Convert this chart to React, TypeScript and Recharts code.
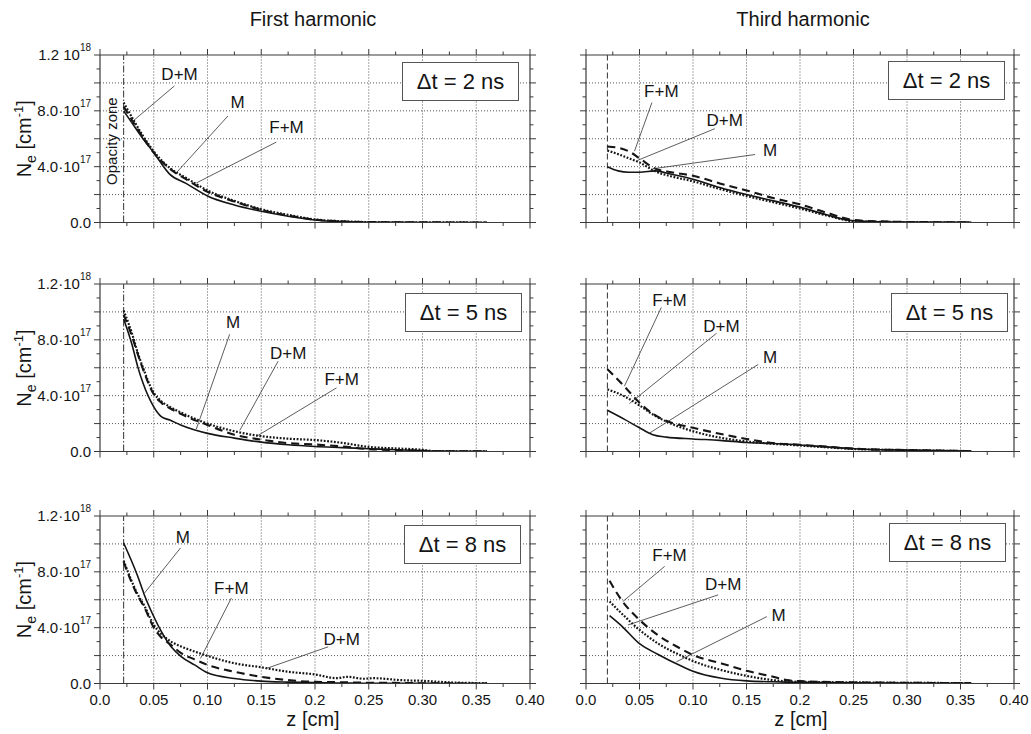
import React from 'react';
import { LineChart, Line, XAxis, YAxis, ReferenceLine, ReferenceDot } from 'recharts';

const FONT = '"Liberation Sans", Arial, Helvetica, sans-serif';
const FRAME = '#3a3a3a';
const INK = '#151515';

// ---------- axis ticks ----------
const zTicks = [0, 0.025, 0.05, 0.075, 0.1, 0.125, 0.15, 0.175, 0.2, 0.225, 0.25, 0.275, 0.3, 0.325, 0.35, 0.375, 0.4];
const zMajor = [0, 0.05, 0.1, 0.15, 0.2, 0.25, 0.3, 0.35, 0.4];
const zLabels = ['0.0', '0.05', '0.10', '0.15', '0.2', '0.25', '0.30', '0.35', '0.40'];
const nTicks = [0, 1, 2, 3, 4, 5, 6, 7, 8, 9, 10, 11, 12]; // units of 1e17 cm^-1
const nMajor = [0, 2, 4, 6, 8, 10, 12];
const nLabelValues = [0, 4, 8, 12];
const nLabelMain = ['0.0', '4.0·10', '8.0·10', '1.2·10'];
const nLabelMainTop = ['0.0', '4.0·10', '8.0·10', '1.2 10'];
const nLabelExp = ['', '17', '17', '18'];

// ---------- First harmonic, Δt = 2 ns ----------
const z_first_2 = [0.022, 0.03, 0.04, 0.05, 0.065, 0.08, 0.1, 0.125, 0.15, 0.175, 0.2, 0.225, 0.25, 0.3, 0.36];
const m_first_2 = [8.0, 7.1, 6.0, 5.0, 3.45, 2.8, 1.9, 1.25, 0.8, 0.45, 0.18, 0.06, 0.02, 0.005, 0];
const dm_first_2 = [8.6, 7.5, 6.2, 5.1, 3.9, 3.2, 2.3, 1.55, 0.95, 0.55, 0.22, 0.09, 0.03, 0.01, 0];
const fm_first_2 = [8.3, 7.3, 6.1, 5.0, 3.85, 3.1, 2.2, 1.5, 0.9, 0.5, 0.2, 0.08, 0.03, 0.01, 0];

// ---------- Third harmonic, Δt = 2 ns ----------
const z_third_2 = [0.02, 0.03, 0.04, 0.05, 0.065, 0.08, 0.1, 0.125, 0.15, 0.175, 0.2, 0.225, 0.25, 0.275, 0.3, 0.36];
const m_third_2 = [4.0, 3.7, 3.6, 3.6, 3.7, 3.45, 3.1, 2.5, 2.0, 1.55, 1.1, 0.55, 0.12, 0.05, 0.03, 0.01];
const dm_third_2 = [5.15, 4.9, 4.6, 4.3, 3.65, 3.3, 2.95, 2.4, 1.9, 1.45, 1.0, 0.5, 0.1, 0.05, 0.03, 0.01];
const fm_third_2 = [5.45, 5.35, 5.1, 4.6, 3.85, 3.6, 3.35, 2.8, 2.3, 1.75, 1.3, 0.7, 0.18, 0.08, 0.04, 0.01];

// ---------- First harmonic, Δt = 5 ns ----------
const z_first_5 = [0.022, 0.03, 0.035, 0.04, 0.05, 0.057, 0.065, 0.075, 0.1, 0.125, 0.15, 0.175, 0.2, 0.225, 0.25, 0.275, 0.3, 0.31, 0.36];
const m_first_5 = [9.5, 7.6, 6.1, 4.9, 3.2, 2.5, 2.25, 1.9, 1.3, 0.96, 0.67, 0.48, 0.36, 0.28, 0.2, 0.12, 0.06, 0.03, 0.01];
const dm_first_5 = [10.1, 8.4, 7.1, 6.0, 4.2, 3.6, 3.2, 2.8, 2.0, 1.45, 1.1, 0.92, 0.82, 0.62, 0.33, 0.22, 0.12, 0.03, 0.01];
const fm_first_5 = [9.8, 8.2, 7.0, 5.9, 4.1, 3.5, 3.1, 2.7, 1.9, 1.2, 0.85, 0.6, 0.5, 0.36, 0.17, 0.1, 0.05, 0.02, 0.01];

// ---------- Third harmonic, Δt = 5 ns ----------
const z_third_5 = [0.02, 0.036, 0.05, 0.0625, 0.075, 0.1, 0.125, 0.15, 0.175, 0.2, 0.225, 0.25, 0.3, 0.36];
const m_third_5 = [2.95, 2.3, 1.7, 1.2, 1.03, 0.9, 0.8, 0.65, 0.57, 0.47, 0.33, 0.2, 0.1, 0.03];
const dm_third_5 = [4.45, 3.95, 3.3, 2.65, 2.15, 1.45, 1.0, 0.72, 0.55, 0.43, 0.3, 0.18, 0.1, 0.03];
const fm_third_5 = [5.9, 4.65, 3.5, 2.7, 2.2, 1.7, 1.27, 0.9, 0.6, 0.48, 0.35, 0.2, 0.1, 0.03];

// ---------- First harmonic, Δt = 8 ns ----------
const z_first_8 = [0.022, 0.035, 0.041, 0.05, 0.057, 0.066, 0.0755, 0.088, 0.1, 0.125, 0.15, 0.175, 0.2, 0.22, 0.23, 0.245, 0.255, 0.28, 0.3, 0.32, 0.36];
const m_first_8 = [10.07, 7.7, 6.4, 4.8, 3.73, 2.65, 1.93, 1.33, 0.77, 0.36, 0.17, 0.1, 0.06, 0.04, 0.03, 0.02, 0.02, 0.01, 0.01, 0.005, 0];
const dm_first_8 = [8.8, 6.4, 5.6, 4.2, 3.55, 3.0, 2.65, 2.29, 1.98, 1.45, 1.16, 0.84, 0.65, 0.38, 0.48, 0.34, 0.38, 0.24, 0.19, 0.1, 0.02];
const fm_first_8 = [8.7, 6.3, 5.5, 4.0, 3.3, 2.77, 2.17, 1.73, 1.33, 0.84, 0.48, 0.24, 0.12, 0.1, 0.08, 0.06, 0.05, 0.04, 0.02, 0.01, 0];

// ---------- Third harmonic, Δt = 8 ns ----------
const z_third_8 = [0.022, 0.033, 0.05, 0.067, 0.089, 0.1, 0.1266, 0.15, 0.175, 0.1875, 0.2, 0.25, 0.3, 0.36];
const m_third_8 = [4.87, 4.15, 2.85, 2.1, 1.25, 0.88, 0.38, 0.19, 0.12, 0.1, 0.08, 0.05, 0.03, 0.02];
const dm_third_8 = [5.88, 5.04, 3.84, 2.88, 1.99, 1.61, 0.96, 0.55, 0.24, 0.16, 0.12, 0.08, 0.05, 0.03];
const fm_third_8 = [7.36, 6.0, 4.56, 3.48, 2.47, 2.04, 1.44, 0.91, 0.48, 0.24, 0.17, 0.08, 0.05, 0.03];

// ---------- annotations: label (tz,tv), leader (z1,v1)->(z2,v2) ----------
type Ann = { text: string; tz: number; tv: number; z1: number; v1: number; z2: number; v2: number };
const ann_first_2: Ann[] = [
  { text: 'D+M', tz: 0.074, tv: 10.6, z1: 0.0693, v1: 9.79, z2: 0.0289, v2: 7.15 },
  { text: 'M', tz: 0.128, tv: 8.6, z1: 0.119, v1: 7.63, z2: 0.0709, v2: 3.55 },
  { text: 'F+M', tz: 0.1735, tv: 6.79, z1: 0.164, v1: 5.76, z2: 0.0896, v2: 2.83 },
];
const ann_third_2: Ann[] = [
  { text: 'F+M', tz: 0.0704, tv: 9.35, z1: 0.0616, v1: 8.59, z2: 0.0453, v2: 5.11 },
  { text: 'D+M', tz: 0.1297, tv: 7.34, z1: 0.1204, v1: 6.72, z2: 0.0485, v2: 4.46 },
  { text: 'M', tz: 0.172, tv: 5.16, z1: 0.158, v1: 4.87, z2: 0.0626, v2: 3.85 },
];
const ann_first_5: Ann[] = [
  { text: 'M', tz: 0.1237, tv: 9.24, z1: 0.1206, v1: 8.4, z2: 0.0896, v2: 1.61 },
  { text: 'D+M', tz: 0.175, tv: 7.03, z1: 0.1657, v1: 6.47, z2: 0.13, v2: 1.51 },
  { text: 'F+M', tz: 0.2248, tv: 5.16, z1: 0.22, v1: 4.56, z2: 0.1455, v2: 1.08 },
];
const ann_third_5: Ann[] = [
  { text: 'F+M', tz: 0.0781, tv: 10.8, z1: 0.0704, v1: 10.32, z2: 0.0359, v2: 4.68 },
  { text: 'D+M', tz: 0.1266, tv: 8.95, z1: 0.122, v1: 8.47, z2: 0.0406, v2: 3.43 },
  { text: 'M', tz: 0.172, tv: 6.72, z1: 0.161, v1: 6.24, z2: 0.0594, v2: 1.32 },
];
const ann_first_8: Ann[] = [
  { text: 'M', tz: 0.0771, tv: 10.43, z1: 0.0749, v1: 9.71, z2: 0.0413, v2: 6.47 },
  { text: 'F+M', tz: 0.1222, tv: 6.83, z1: 0.1222, v1: 6.12, z2: 0.0935, v2: 1.8 },
  { text: 'D+M', tz: 0.2248, tv: 3.16, z1: 0.2123, v1: 2.63, z2: 0.1549, v2: 1.08 },
];
const ann_third_8: Ann[] = [
  { text: 'F+M', tz: 0.0781, tv: 9.18, z1: 0.0735, v1: 8.39, z2: 0.0344, v2: 5.87 },
  { text: 'D+M', tz: 0.1282, tv: 7.07, z1: 0.1235, v1: 6.35, z2: 0.0391, v2: 4.19 },
  { text: 'M', tz: 0.18, tv: 4.86, z1: 0.169, v1: 4.79, z2: 0.0844, v2: 1.55 },
];

const titles = ['First harmonic', 'Third harmonic'];
const dtLabels = ['Δt = 2 ns', 'Δt = 5 ns', 'Δt = 8 ns'];
const opacityZ = [0.022, 0.02];

type Panel = { row: number; col: number; z: number[]; m: number[]; dm: number[]; fm: number[]; ann: Ann[] };
const panels: Panel[] = [
  { row: 0, col: 0, z: z_first_2, m: m_first_2, dm: dm_first_2, fm: fm_first_2, ann: ann_first_2 },
  { row: 0, col: 1, z: z_third_2, m: m_third_2, dm: dm_third_2, fm: fm_third_2, ann: ann_third_2 },
  { row: 1, col: 0, z: z_first_5, m: m_first_5, dm: dm_first_5, fm: fm_first_5, ann: ann_first_5 },
  { row: 1, col: 1, z: z_third_5, m: m_third_5, dm: dm_third_5, fm: fm_third_5, ann: ann_third_5 },
  { row: 2, col: 0, z: z_first_8, m: m_first_8, dm: dm_first_8, fm: fm_first_8, ann: ann_first_8 },
  { row: 2, col: 1, z: z_third_8, m: m_third_8, dm: dm_third_8, fm: fm_third_8, ann: ann_third_8 },
];

// ---------- layout ----------
const PLOT_LEFT = [100, 586];
const PLOT_W = [430, 428];
const PLOT_TOP = [55, 284.3, 515.8];
const PLOT_H = 167.5;
const BOX_POS = [
  [[402, 62], [888, 61]],
  [[405, 293], [891, 293]],
  [[404, 525], [889, 523]],
];

const findIdx = (arr: number[], v: number) => arr.findIndex((a) => Math.abs(a - v) < 1e-9);

const BottomTick = (showLabels: boolean) => (p: any) => {
  const { x, y, payload } = p;
  const idx = findIdx(zMajor, payload.value);
  const major = idx >= 0;
  return (
    <g>
      <line x1={x} x2={x} y1={y} y2={y + (major ? 6 : 3.5)} stroke={FRAME} strokeWidth={1} />
      {showLabels && major ? (
        <text x={x} y={y + 21} textAnchor="middle" fontSize={15} fontFamily={FONT} fill={INK}>
          {zLabels[idx]}
        </text>
      ) : null}
    </g>
  );
};

const TopTick = (p: any) => {
  const { x, y, payload } = p;
  const major = findIdx(zMajor, payload.value) >= 0;
  return <line x1={x} x2={x} y1={y} y2={y - (major ? 6 : 3.5)} stroke={FRAME} strokeWidth={1} />;
};

const LeftTick = (showLabels: boolean, top: boolean) => (p: any) => {
  const { x, y, payload } = p;
  const major = findIdx(nMajor, payload.value) >= 0;
  const li = findIdx(nLabelValues, payload.value);
  const mains = top ? nLabelMainTop : nLabelMain;
  return (
    <g>
      <line x1={x} x2={x - (major ? 6 : 3.5)} y1={y} y2={y} stroke={FRAME} strokeWidth={1} />
      {showLabels && li >= 0 ? (
        <text x={x - 9} y={y + 5} textAnchor="end" fontSize={15} fontFamily={FONT} fill={INK}>
          <tspan>{mains[li]}</tspan>
          {nLabelExp[li] ? (
            <tspan fontSize={10} dy={-9}>
              {nLabelExp[li]}
            </tspan>
          ) : null}
        </text>
      ) : null}
    </g>
  );
};

const RightTick = (p: any) => {
  const { x, y, payload } = p;
  const major = findIdx(nMajor, payload.value) >= 0;
  return <line x1={x} x2={x + (major ? 6 : 3.5)} y1={y} y2={y} stroke={FRAME} strokeWidth={1} />;
};

function PanelChart({ panel }: { panel: Panel }) {
  const { row, col } = panel;
  const ML = col === 0 ? 100 : 20;
  const MR = 15;
  const MT = 15;
  const MB = row === 2 ? 30 : 15;
  const AX = 1; // thickness reserved by each axis
  const plotW = PLOT_W[col];
  const left = PLOT_LEFT[col] - ML;
  const top = PLOT_TOP[row] - MT;
  const data = panel.z.map((z, i) => ({ z, m: panel.m[i], dm: panel.dm[i], fm: panel.fm[i] }));
  const gridZ = zMajor.slice(1, -1);
  const gridN = nMajor.slice(1, -1);
  return (
    <div style={{ position: 'absolute', left, top }}>
      <LineChart
        width={ML + plotW + MR}
        height={MT + PLOT_H + MB}
        data={data}
        margin={{ top: MT - AX, right: MR - AX, bottom: MB - AX, left: ML - AX }}
      >
        <XAxis
          dataKey="z"
          type="number"
          domain={[0, 0.4]}
          ticks={zTicks}
          interval={0}
          allowDataOverflow
          height={AX}
          tickSize={0}
          tickMargin={0}
          axisLine={{ stroke: FRAME, strokeWidth: 1.2 }}
          tick={BottomTick(row === 2)}
        />
        <XAxis
          xAxisId="top"
          orientation="top"
          dataKey="z"
          type="number"
          domain={[0, 0.4]}
          ticks={zTicks}
          interval={0}
          allowDataOverflow
          height={AX}
          tickSize={0}
          tickMargin={0}
          axisLine={{ stroke: FRAME, strokeWidth: 1.2 }}
          tick={TopTick}
        />
        <YAxis
          type="number"
          domain={[0, 12]}
          ticks={nTicks}
          interval={0}
          allowDataOverflow
          width={AX}
          tickSize={0}
          tickMargin={0}
          axisLine={{ stroke: FRAME, strokeWidth: 1.2 }}
          tick={LeftTick(col === 0, row === 0)}
        />
        <YAxis
          yAxisId="right"
          orientation="right"
          type="number"
          domain={[0, 12]}
          ticks={nTicks}
          interval={0}
          allowDataOverflow
          width={AX}
          tickSize={0}
          tickMargin={0}
          axisLine={{ stroke: FRAME, strokeWidth: 1.2 }}
          tick={RightTick}
        />
        {gridZ.map((g) => (
          <ReferenceLine key={'gz' + g} x={g} stroke="#555" strokeWidth={1} strokeDasharray="1 2" />
        ))}
        {gridN.map((g) => (
          <ReferenceLine key={'gn' + g} y={g} stroke="#555" strokeWidth={1} strokeDasharray="1 2" />
        ))}
        <ReferenceLine
          x={opacityZ[col]}
          stroke="#333"
          strokeWidth={1}
          strokeDasharray={col === 0 ? '7 2 1.5 2' : '6 3'}
        />
        {row === 0 && col === 0 ? (
          <ReferenceDot
            x={0.0103}
            y={5.83}
            r={0}
            shape={(p: any) => (
              <text
                transform={`translate(${p.cx},${p.cy}) rotate(-90)`}
                textAnchor="middle"
                dominantBaseline="central"
                fontSize={15}
                fontFamily={FONT}
                fill={INK}
              >
                Opacity zone
              </text>
            )}
          />
        ) : null}
        <Line type="monotone" dataKey="m" stroke={INK} strokeWidth={1.6} dot={false} activeDot={false} isAnimationActive={false} />
        <Line type="monotone" dataKey="fm" stroke={INK} strokeWidth={2.1} strokeDasharray="8 5" dot={false} activeDot={false} isAnimationActive={false} />
        <Line type="monotone" dataKey="dm" stroke={INK} strokeWidth={2.2} strokeDasharray="1.8 1.6" dot={false} activeDot={false} isAnimationActive={false} />
        {panel.ann.map((a, i) => (
          <ReferenceLine
            key={'al' + i}
            segment={[
              { x: a.z1, y: a.v1 },
              { x: a.z2, y: a.v2 },
            ]}
            stroke="#333"
            strokeWidth={0.8}
          />
        ))}
        {panel.ann.map((a, i) => (
          <ReferenceDot
            key={'at' + i}
            x={a.tz}
            y={a.tv}
            r={0}
            shape={(p: any) => (
              <text x={p.cx} y={p.cy} textAnchor="middle" dominantBaseline="central" fontSize={17} fontFamily={FONT} fill={INK}>
                {a.text}
              </text>
            )}
          />
        ))}
      </LineChart>
    </div>
  );
}

function YLabel({ cy }: { cy: number }) {
  return (
    <text transform={`translate(31,${cy}) rotate(-90)`} textAnchor="middle" fontSize={20} fontFamily={FONT} fill={INK}>
      <tspan>N</tspan>
      <tspan fontSize={14} dy={5}>
        e
      </tspan>
      <tspan dy={-5}> [cm</tspan>
      <tspan fontSize={13} dy={-8}>
        -1
      </tspan>
      <tspan dy={8}>]</tspan>
    </text>
  );
}

export default function App() {
  return (
    <div style={{ position: 'absolute', left: 0, top: 0, width: 1031, height: 734, background: '#fff', overflow: 'hidden', fontFamily: FONT }}>
      <svg width={1031} height={734} style={{ position: 'absolute', left: 0, top: 0 }}>
        <text x={313} y={26} textAnchor="middle" fontSize={20} fontFamily={FONT} fill={INK}>
          {titles[0]}
        </text>
        <text x={803} y={26} textAnchor="middle" fontSize={20} fontFamily={FONT} fill={INK}>
          {titles[1]}
        </text>
        <text x={313} y={726} textAnchor="middle" fontSize={20} fontFamily={FONT} fill={INK}>
          z [cm]
        </text>
        <text x={801} y={726} textAnchor="middle" fontSize={20} fontFamily={FONT} fill={INK}>
          z [cm]
        </text>
        {PLOT_TOP.map((t, i) => (
          <YLabel key={'yl' + i} cy={t + PLOT_H / 2} />
        ))}
      </svg>
      {panels.map((p, i) => (
        <PanelChart key={i} panel={p} />
      ))}
      {BOX_POS.map((rowPos, r) =>
        rowPos.map((pos, c) => (
          <div
            key={'box' + r + c}
            style={{
              position: 'absolute',
              left: pos[0],
              top: pos[1],
              width: 117,
              height: 39,
              boxSizing: 'border-box',
              border: '1.5px solid #555',
              background: '#fff',
              display: 'flex',
              alignItems: 'center',
              justifyContent: 'center',
              fontSize: 22,
              fontFamily: FONT,
              color: INK,
            }}
          >
            {dtLabels[r]}
          </div>
        ))
      )}
    </div>
  );
}
